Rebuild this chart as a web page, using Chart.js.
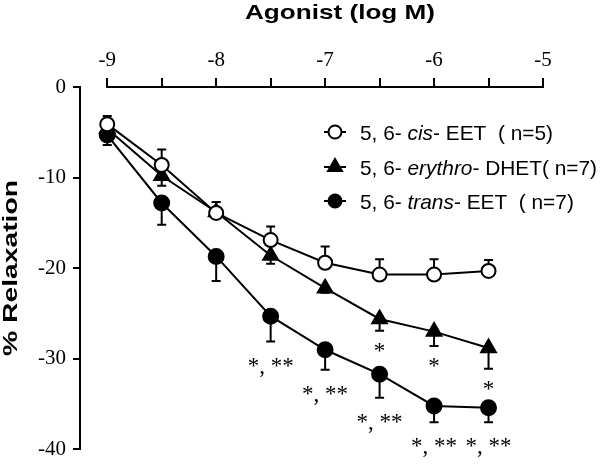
<!DOCTYPE html>
<html><head><meta charset="utf-8">
<script src="https://cdn.jsdelivr.net/npm/chart.js@4/dist/chart.umd.min.js"></script>
<style>html,body{margin:0;padding:0;background:#fff}</style>
</head><body>
<canvas id="c" width="600" height="469"></canvas>
<script>
// ---- data ----
const logDose      = [-9, -8.5, -8, -7.5, -7, -6.5, -6, -5.5];
const cisMean      = [-4.1, -8.6, -13.9, -16.9, -19.4, -20.7, -20.7, -20.3];
const cisSem       = [0.9, 1.7, 1.2, 1.5, 1.8, 1.7, 1.7, 1.2];
const erythroMean  = [-4.6, -9.8, -13.8, -18.6, -22.2, -25.6, -27.0, -28.8];
const erythroSem   = [0.8, 1.1, 0.7, 0.9, 0.5, 1.3, 1.6, 2.3];
const transMean    = [-5.3, -12.8, -18.7, -25.3, -29.0, -31.7, -35.2, -35.4];
const transSem     = [1.1, 2.4, 2.7, 2.8, 2.2, 2.6, 1.8, 1.6];
const erythroSig   = ['', '', '', '', '', '*', '*', '*'];
const transSig     = ['', '', '', '*, **', '*, **', '*, **', '*, **', '*, **'];
const xTickValues  = [-9, -8.5, -8, -7.5, -7, -6.5, -6, -5.5, -5];
const xTickLabels  = ['-9', '', '-8', '', '-7', '', '-6', '', '-5'];
const yTickValues  = [0, -10, -20, -30, -40];
const xTitle = 'Agonist (log M)';
const yTitle = '% Relaxation';
const legendRows = [
  ['5, 6- ', 'cis', '- EET  ( n=5)'],
  ['5, 6- ', 'erythro', '- DHET( n=7)'],
  ['5, 6- ', 'trans', '- EET  ( n=7)']
];

const pts = m => logDose.map((x, i) => ({x: x, y: m[i]}));

const datasets = [
  {label: 'cis', data: pts(cisMean), sem: cisSem, errDir: 1, sig: null,
   pointStyle: 'circle', pointRadius: 7, pointBackgroundColor: '#fff', markerFill: '#fff'},
  {label: 'erythro', data: pts(erythroMean), sem: erythroSem, errDir: -1, sig: erythroSig, sigOffset: 27,
   pointStyle: 'triangle', pointRadius: 8.5, pointBackgroundColor: '#000', markerFill: '#000'},
  {label: 'trans', data: pts(transMean), sem: transSem, errDir: -1, sig: transSig, sigOffset: 31,
   pointStyle: 'circle', pointRadius: 7.5, pointBackgroundColor: '#000', markerFill: '#000'}
].map(d => Object.assign({
  borderColor: '#000', borderWidth: 2, pointBorderColor: '#000', pointBorderWidth: 2,
  pointHoverRadius: d.pointRadius, tension: 0, fill: false, clip: false, showLine: true
}, d));

function drawStretched(ctx, text, font, cx, baseY, targetW, rot) {
  ctx.save();
  ctx.font = font;
  const w = ctx.measureText(text).width;
  ctx.translate(cx, baseY);
  if (rot) ctx.rotate(rot);
  ctx.scale(targetW / w, 1);
  ctx.textAlign = 'center';
  ctx.textBaseline = 'alphabetic';
  ctx.fillStyle = '#000';
  ctx.fillText(text, 0, 0);
  ctx.restore();
}

function drawMarker(ctx, style, r, fill, x, y) {
  ctx.save();
  ctx.fillStyle = fill; ctx.strokeStyle = '#000'; ctx.lineWidth = 2;
  ctx.beginPath();
  if (style === 'triangle') {
    const k = Math.sin(Math.PI / 3 * 2);
    ctx.moveTo(x, y - r);
    ctx.lineTo(x + r * k, y + r / 2);
    ctx.lineTo(x - r * k, y + r / 2);
    ctx.closePath();
  } else {
    ctx.arc(x, y, r, 0, Math.PI * 2);
  }
  ctx.fill(); ctx.stroke();
  ctx.restore();
}

const customDraw = {
  id: 'customDraw',
  beforeDatasetsDraw(chart) {
    const ctx = chart.ctx, xs = chart.scales.x, ys = chart.scales.y;
    ctx.save();
    ctx.strokeStyle = '#000'; ctx.lineWidth = 2;
    chart.data.datasets.forEach(ds => {
      ds.data.forEach((p, j) => {
        const px = xs.getPixelForValue(p.x);
        const py = ys.getPixelForValue(p.y);
        const pe = ys.getPixelForValue(p.y + ds.errDir * ds.sem[j]);
        ctx.beginPath();
        ctx.moveTo(px, py); ctx.lineTo(px, pe);
        ctx.moveTo(px - 4.5, pe); ctx.lineTo(px + 4.5, pe);
        ctx.stroke();
      });
    });
    ctx.restore();
  },
  afterDatasetsDraw(chart) {
    const ctx = chart.ctx, xs = chart.scales.x, ys = chart.scales.y;
    ctx.save();
    ctx.fillStyle = '#000';
    ctx.font = '23px "Liberation Serif", "Times New Roman", serif';
    ctx.textAlign = 'center'; ctx.textBaseline = 'alphabetic';
    chart.data.datasets.forEach(ds => {
      if (!ds.sig) return;
      ds.data.forEach((p, j) => {
        if (!ds.sig[j]) return;
        const px = xs.getPixelForValue(p.x);
        const pe = ys.getPixelForValue(p.y + ds.errDir * ds.sem[j]);
        ctx.fillText(ds.sig[j], px, pe + ds.sigOffset);
      });
    });
    ctx.restore();
  },
  afterDraw(chart) {
    const ctx = chart.ctx, xs = chart.scales.x, ca = chart.chartArea;
    // top axis line from first to last tick
    ctx.save();
    ctx.strokeStyle = '#000'; ctx.lineWidth = 2;
    ctx.beginPath();
    ctx.moveTo(xs.getPixelForValue(xTickValues[0]) - 1, ca.top);
    ctx.lineTo(xs.getPixelForValue(xTickValues[xTickValues.length - 1]) + 1, ca.top);
    ctx.stroke();
    ctx.restore();
    // axis titles
    const tfont = 'bold 21px "Liberation Sans", Arial, sans-serif';
    drawStretched(ctx, xTitle, tfont, 340, 18.5, 190, 0);
    drawStretched(ctx, yTitle, tfont, 16.5, 268, 176, -Math.PI / 2);
    // legend
    const rowsY = [132, 167, 201];
    const fontN = '21px "Liberation Sans", Arial, sans-serif';
    const fontI = 'italic 21px "Liberation Sans", Arial, sans-serif';
    const fonts = [fontN, fontI, fontN];
    const rowW = row => row.reduce((s, t, k) => { ctx.font = fonts[k]; return s + ctx.measureText(t).width; }, 0);
    const sx = 237 / rowW(legendRows[1]);
    legendRows.forEach((row, i) => {
      const y = rowsY[i];
      const ds = chart.data.datasets[i];
      ctx.save();
      ctx.strokeStyle = '#000'; ctx.lineWidth = 2;
      ctx.beginPath(); ctx.moveTo(324, y); ctx.lineTo(346, y); ctx.stroke();
      ctx.restore();
      drawMarker(ctx, ds.pointStyle, ds.pointStyle === 'triangle' ? 8 : 6.5, ds.markerFill, 335, y);
      ctx.save();
      ctx.translate(360, y + 7.5);
      ctx.scale(sx, 1);
      ctx.fillStyle = '#000'; ctx.textBaseline = 'alphabetic'; ctx.textAlign = 'left';
      let xx = 0;
      row.forEach((t, k) => { ctx.font = fonts[k]; ctx.fillText(t, xx, 0); xx += ctx.measureText(t).width; });
      ctx.restore();
    });
  }
};

new Chart(document.getElementById('c'), {
  type: 'line',
  data: {datasets: datasets},
  plugins: [customDraw],
  options: {
    responsive: false, animation: false, devicePixelRatio: 1,
    layout: {padding: {left: 0, top: 0, right: 57, bottom: 12}},
    plugins: {legend: {display: false}, tooltip: {enabled: false}, title: {display: false}},
    scales: {
      x: {
        type: 'linear', position: 'top', min: -9.25, max: -5,
        afterFit: s => { s.height = 87; },
        afterBuildTicks: s => { s.ticks = xTickValues.map(v => ({value: v})); },
        border: {display: false},
        grid: {display: true, drawOnChartArea: false, drawTicks: true, tickLength: 9, color: '#000', lineWidth: 2},
        ticks: {
          color: '#000', padding: 5, maxRotation: 0, autoSkip: false,
          font: {family: '"Liberation Serif", "Times New Roman", serif', size: 21},
          callback: (v) => { const i = xTickValues.indexOf(v); return i >= 0 ? xTickLabels[i] : ''; }
        }
      },
      y: {
        type: 'linear', position: 'left', min: -40, max: 0,
        afterFit: s => { s.width = 80; },
        afterBuildTicks: s => { s.ticks = yTickValues.map(v => ({value: v})); },
        border: {display: true, color: '#000', width: 2},
        grid: {display: true, drawOnChartArea: false, drawTicks: true, tickLength: 7, color: '#000', lineWidth: 2},
        ticks: {
          color: '#000', padding: 7, autoSkip: false,
          font: {family: '"Liberation Serif", "Times New Roman", serif', size: 21}
        }
      }
    }
  }
});
</script>
</body></html>
